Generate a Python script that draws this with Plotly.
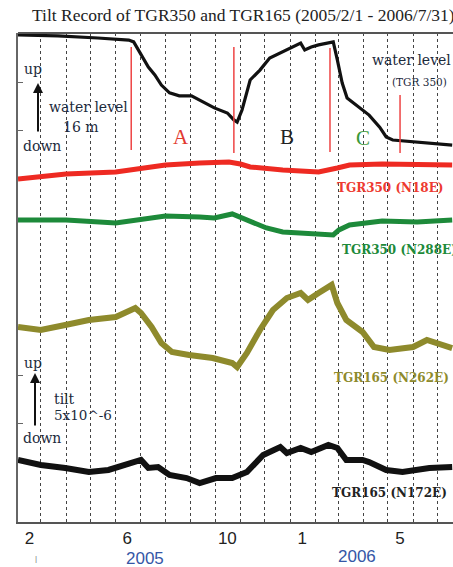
import plotly.graph_objects as go

# ---------------- data ----------------
water_dates = ["2005-02-01", "2005-03-22", "2005-05-10", "2005-06-17", "2005-06-23", "2005-06-29",
               "2005-07-11", "2005-07-19", "2005-07-27", "2005-08-06", "2005-08-18", "2005-09-02",
               "2005-09-12", "2005-09-30", "2005-10-16", "2005-10-24", "2005-10-28", "2005-11-03",
               "2005-11-13", "2005-11-25", "2005-12-07", "2005-12-23", "2006-01-11", "2006-01-14",
               "2006-01-19", "2006-01-27", "2006-02-05", "2006-02-23", "2006-02-28", "2006-03-06",
               "2006-03-12", "2006-03-27", "2006-04-08", "2006-04-21", "2006-04-29", "2006-05-07",
               "2006-06-06", "2006-07-19"]
water_level = [175.0, 174.7, 174.0, 173.3, 172.7, 170.0,
               164.3, 161.7, 158.3, 155.7, 154.7, 154.7,
               153.3, 150.7, 149.0, 146.7, 146.0, 150.0,
               160.0, 163.3, 167.3, 169.3, 171.7, 172.3,
               170.0, 171.0, 171.7, 172.7, 166.7, 159.0,
               154.0, 151.0, 148.3, 144.3, 141.0, 140.0,
               139.3, 138.3]

n18e_dates = ["2005-02-01", "2005-03-01", "2005-04-01", "2005-06-01", "2005-06-20", "2005-07-01",
              "2005-08-01", "2005-09-12", "2005-09-30", "2005-10-18", "2005-11-01", "2005-11-13",
              "2005-12-23", "2006-02-05", "2006-02-28", "2006-03-15", "2006-04-24", "2006-07-19"]
n18e_tilt = [0.0, 0.21, 0.52, 0.73, 0.94, 1.15, 1.46, 1.67, 1.77, 1.77, 1.56, 1.25,
             0.94, 0.73, 1.15, 1.46, 1.56, 1.46]

n288e_dates = ["2005-02-01", "2005-04-01", "2005-06-01", "2005-07-01", "2005-08-01", "2005-09-12",
               "2005-09-30", "2005-10-22", "2005-11-10", "2005-12-03", "2005-12-23", "2006-02-05",
               "2006-02-23", "2006-03-02", "2006-03-15", "2006-04-24", "2006-06-06", "2006-07-19"]
n288e_tilt = [0.0, 0.0, -0.31, 0.0, 0.42, 0.31, 0.21, 0.63, 0.0, -0.83, -1.25, -1.56,
              -1.56, -1.04, -0.52, -0.10, -0.21, 0.0]

n262e_dates = ["2005-02-01", "2005-03-01", "2005-03-31", "2005-04-29", "2005-06-01", "2005-06-17",
               "2005-06-25", "2005-07-02", "2005-07-15", "2005-07-27", "2005-08-09", "2005-08-30",
               "2005-09-28", "2005-10-22", "2005-10-28", "2005-11-09", "2005-11-25", "2005-12-11",
               "2005-12-28", "2006-01-14", "2006-01-23", "2006-02-05", "2006-02-21", "2006-02-28",
               "2006-03-11", "2006-03-31", "2006-04-14", "2006-05-03", "2006-06-01", "2006-06-18",
               "2006-07-12", "2006-07-19"]
n262e_tilt = [0.0, -0.31, 0.21, 0.73, 1.04, 1.77, 1.98, 1.46, 0.0, -1.67, -2.60, -2.92,
              -3.23, -3.75, -4.17, -2.71, -0.31, 1.77, 3.02, 3.54, 2.81, 3.54, 4.38, 2.50,
              0.73, -0.52, -2.08, -2.40, -2.08, -1.35, -2.08, -2.19]

n172e_dates = ["2005-02-01", "2005-03-01", "2005-03-31", "2005-04-29", "2005-05-23", "2005-06-20",
               "2005-07-02", "2005-07-11", "2005-07-23", "2005-08-06", "2005-08-27", "2005-09-12",
               "2005-10-02", "2005-10-22", "2005-11-09", "2005-11-29", "2005-12-20", "2005-12-28",
               "2006-01-14", "2006-01-27", "2006-02-17", "2006-02-28", "2006-03-11", "2006-03-31",
               "2006-04-08", "2006-04-29", "2006-05-19", "2006-06-21", "2006-07-19"]
n172e_tilt = [0.0, -0.52, -0.83, -1.25, -1.04, -0.31, 0.0, -0.83, -0.73, -1.56, -1.88, -2.40,
              -1.88, -1.88, -1.25, 0.52, 1.35, 0.73, 1.25, 0.83, 1.56, 1.25, 0.0, 0.0,
              -0.21, -1.04, -1.25, -0.83, -0.73]

event_dates = ["2005-06-20", "2005-10-24", "2006-02-19", "2006-05-16"]
month_starts = ["2005-03-01", "2005-04-01", "2005-05-01", "2005-06-01", "2005-07-01", "2005-08-01",
                "2005-09-01", "2005-10-01", "2005-11-01", "2005-12-01", "2006-01-01", "2006-02-01",
                "2006-03-01", "2006-04-01", "2006-05-01", "2006-06-01", "2006-07-01"]
month_label_dates = ["2005-02-15", "2005-06-15", "2005-10-16", "2006-01-16", "2006-05-16"]
month_labels = ["2", "6", "10", "1", "5"]

# ---------------- layout helpers ----------------
W, H = 453, 567
L, R, T, B = 18, 0, 33, 45
PW, PH = W - L - R, H - T - B


def px(x):
    return (x - L) / PW


def py(y):
    return (H - B - y) / PH


SERIF = "Liberation Serif"
DSERIF = "DejaVu Serif"
SANS = "Liberation Sans"
TILT_PX = 9.6      # pixels per 1e-6 tilt
WATER_PX = 3.0     # pixels per metre


def tilt_range(y0):
    top = (y0 - T) / TILT_PX
    return [top - PH / TILT_PX, top]


fig = go.Figure()
fig.add_trace(go.Scatter(x=water_dates, y=water_level, mode="lines", yaxis="y",
                         line=dict(color="#111111", width=3.2)))
fig.add_trace(go.Scatter(x=n18e_dates, y=n18e_tilt, mode="lines", yaxis="y2",
                         line=dict(color="#ee2a22", width=5)))
fig.add_trace(go.Scatter(x=n288e_dates, y=n288e_tilt, mode="lines", yaxis="y3",
                         line=dict(color="#1d8a3a", width=5)))
fig.add_trace(go.Scatter(x=n262e_dates, y=n262e_tilt, mode="lines", yaxis="y4",
                         line=dict(color="#8e8a2c", width=6)))
fig.add_trace(go.Scatter(x=n172e_dates, y=n172e_tilt, mode="lines", yaxis="y5",
                         line=dict(color="#111111", width=6)))

water_top = 175.0 + (35 - T) / WATER_PX
hidden = dict(overlaying="y", visible=False, fixedrange=True)

shapes = []
ev_spans = [(47, 150), (47, 153), (48, 152), (95, 153)]
for d, (y1, y2) in zip(event_dates, ev_spans):
    shapes.append(dict(type="line", xref="x", yref="paper", x0=d, x1=d, y0=py(y2), y1=py(y1),
                       line=dict(color="#ee4444", width=1.5)))
shapes.append(dict(type="line", xref="paper", yref="paper", x0=0, x1=1, y0=1, y1=1,
                   line=dict(color="#555555", width=2)))

TXT = "#1c2a3c"
ann = []


def text(x, y, s, size, color=TXT, font=DSERIF, xanchor="center"):
    ann.append(dict(x=px(x), y=py(y), xref="paper", yref="paper", text=s, showarrow=False,
                    xanchor=xanchor, yanchor="middle", font=dict(family=font, size=size, color=color)))


text(30, 15, "Tilt Record of TGR350 and TGR165 (2005/2/1 - 2006/7/31)", 17.5, "#222222", SERIF, "left")
text(33, 69, "up", 14)
text(88, 107, "water level", 14)
text(81, 127, "16 m", 14)
text(42, 146, "down", 14)
text(370, 60, "water level", 14, xanchor="left")
text(390, 82, "(TGR 350)", 10.5, xanchor="left")
text(181, 137, "A", 21, "#e23a30", SERIF)
text(287, 137, "B", 21, "#222222", SERIF)
text(363, 138, "C", 21, "#3a9a3a", SERIF)
text(335, 188, "<b>TGR350 (N18E)</b>", 12, "#ee3a30", xanchor="left")
text(340, 250, "<b>TGR350 (N288E)</b>", 12, "#1d8a3a", xanchor="left")
text(332, 378, "<b>TGR165 (N262E)</b>", 12, "#8e8a2c", xanchor="left")
text(33, 363, "up", 14)
text(52, 399, "tilt", 14, xanchor="left")
text(52, 415, "5x10^-6", 13.5, xanchor="left")
text(42, 438, "down", 14)
text(330, 493, "<b>TGR165 (N172E)</b>", 12, "#222222", xanchor="left")
text(145, 558, "2005", 17, "#3556a6", SANS)
text(357, 556, "2006", 17, "#3556a6", SANS)
text(36, 558, "|", 8, "#777777", SANS)

for (xa, y_from, y_to) in [(38, 133, 83), (35, 427, 373)]:
    ann.append(dict(x=px(xa), y=py(y_to), xref="paper", yref="paper", ax=0, ay=y_from - y_to,
                    axref="pixel", ayref="pixel", showarrow=True, arrowhead=2, arrowsize=1,
                    arrowwidth=2, arrowcolor="#111111", text=""))

fig.update_layout(
    width=W, height=H, margin=dict(l=L, r=R, t=T, b=B),
    paper_bgcolor="white", plot_bgcolor="white", showlegend=False,
    xaxis=dict(type="date", range=["2005-02-01", "2006-07-20"], tickmode="array",
               tickvals=month_label_dates, ticktext=month_labels, ticks="", showgrid=False,
               zeroline=False, showline=True, linecolor="#555555", linewidth=2,
               tickfont=dict(family=SANS, size=17, color="#222222"), ticklabelstandoff=0,
               minor=dict(tickmode="array", tickvals=month_starts, showgrid=True,
                          griddash="dot", gridcolor="#444444", gridwidth=1.4, ticks=""),
               fixedrange=True),
    yaxis=dict(range=[water_top - PH / WATER_PX, water_top], showgrid=False, zeroline=False,
               showline=True, linecolor="#666666", linewidth=2, ticks="inside", ticklen=5,
               tickcolor="#666666", tickvals=[175.0 - (130 - 35) / 3, 175.0 - (82 - 35) / 3],
               showticklabels=False, fixedrange=True),
    yaxis2=dict(range=tilt_range(179), **hidden),
    yaxis3=dict(range=tilt_range(220), **hidden),
    yaxis4=dict(range=tilt_range(327), **hidden),
    yaxis5=dict(range=tilt_range(460), overlaying="y", showgrid=False, zeroline=False,
                showline=False, ticks="inside", ticklen=5, tickcolor="#666666",
                tickvals=[(460 - 423) / TILT_PX, (460 - 375) / TILT_PX], showticklabels=False,
                fixedrange=True),
    shapes=shapes, annotations=ann,
)

fig.write_html("out.html")
